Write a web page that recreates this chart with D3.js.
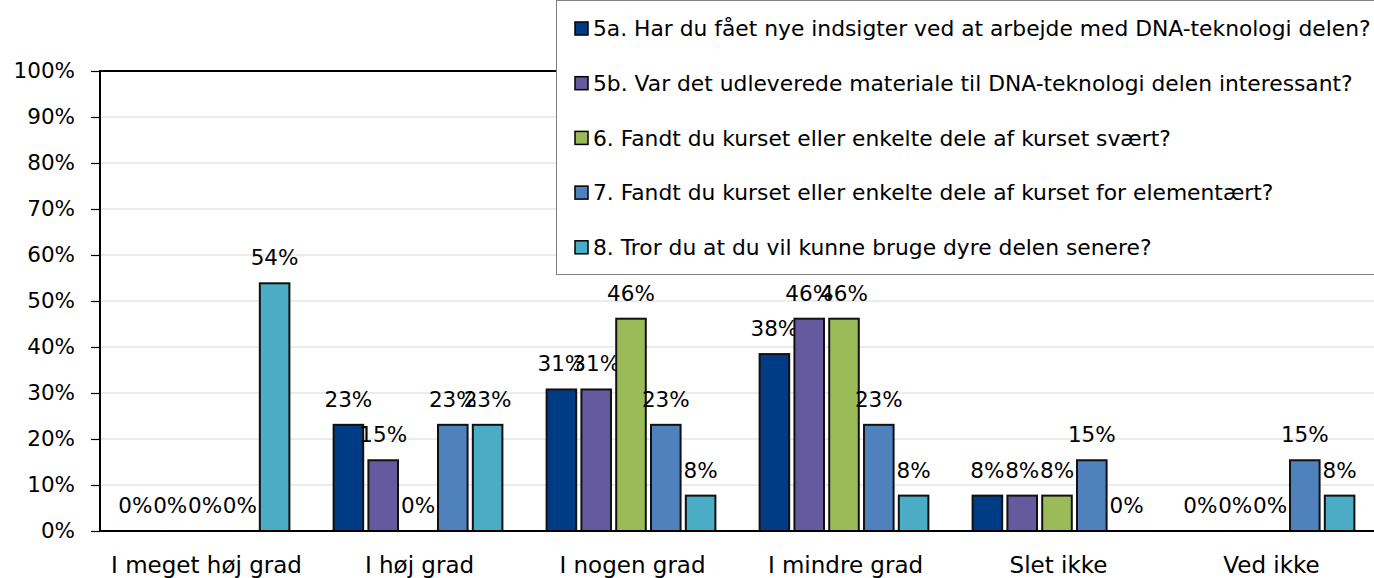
<!DOCTYPE html>
<html>
<head>
<meta charset="utf-8">
<script src="https://cdn.jsdelivr.net/npm/d3@7"></script>
<style>
  html, body { margin: 0; padding: 0; background: #fff; }
  svg { display: block; font-family: 'DejaVu Sans', sans-serif; }
</style>
</head>
<body>
<div id="chart"></div>
<script>
const categories = ['I meget høj grad', 'I høj grad', 'I nogen grad', 'I mindre grad', 'Slet ikke', 'Ved ikke'];
const seriesNames = [
  '5a. Har du fået nye indsigter ved at arbejde med DNA-teknologi delen?',
  '5b. Var det udleverede materiale til DNA-teknologi delen interessant?',
  '6. Fandt du kurset eller enkelte dele af kurset svært?',
  '7. Fandt du kurset eller enkelte dele af kurset for elementært?',
  '8. Tror du at du vil kunne bruge dyre delen senere?'
];
const seriesColors = ['#003C85', '#655A9E', '#9BBB59', '#4F81BD', '#4BACC6'];
// percent per category, one array per series
const s5a = [0, 23.08, 30.77, 38.46, 7.69, 0];
const s5b = [0, 15.38, 30.77, 46.15, 7.69, 0];
const s6  = [0, 0, 46.15, 46.15, 7.69, 0];
const s7  = [0, 23.08, 23.08, 23.08, 15.38, 15.38];
const s8  = [53.85, 23.08, 7.69, 7.69, 0, 7.69];
const yTicks = [0, 10, 20, 30, 40, 50, 60, 70, 80, 90, 100];

const allSeries = [s5a, s5b, s6, s7, s8];
const width = 1374, height = 578;
const plotLeft = 100, plotRight = 1378, plotTop = 71, plotBottom = 531;

const svg = d3.select('#chart').append('svg')
  .attr('width', width).attr('height', height);

const x0 = d3.scaleBand().domain(categories).range([plotLeft, plotRight]).padding(0);
const x1 = d3.scaleBand().domain(d3.range(seriesNames.length))
  .range([-88.5, 85.5]).paddingInner(0.15).paddingOuter(0.075);
const y = d3.scaleLinear().domain([0, 100]).range([plotBottom, plotTop]);

// gridlines
svg.append('g').selectAll('line')
  .data(yTicks.filter(t => t > 0 && t < 100))
  .join('line')
  .attr('x1', plotLeft).attr('x2', plotRight)
  .attr('y1', d => y(d)).attr('y2', d => y(d))
  .attr('stroke', '#d9d9d9').attr('stroke-width', 1);

// y axis
const yAxis = svg.append('g').attr('transform', `translate(${plotLeft},0)`)
  .call(d3.axisLeft(y).tickValues(yTicks).tickFormat(d => d + '%').tickSize(9).tickPadding(16));
yAxis.select('.domain').remove();
yAxis.selectAll('line').attr('stroke', '#000').attr('stroke-width', 1.2);
yAxis.selectAll('text').attr('font-size', '21.5px').attr('fill', '#000')
  .attr('font-family', "'DejaVu Sans', sans-serif");

// bars
const groups = svg.append('g').selectAll('g')
  .data(categories)
  .join('g')
  .attr('transform', d => `translate(${x0(d) + x0.bandwidth() / 2},0)`);

groups.each(function(cat, ci) {
  const g = d3.select(this);
  allSeries.forEach((vals, si) => {
    const v = vals[ci];
    if (v > 0) {
      g.append('rect')
        .attr('x', x1(si)).attr('width', x1.bandwidth())
        .attr('y', y(v)).attr('height', y(0) - y(v))
        .attr('fill', seriesColors[si])
        .attr('stroke', '#111').attr('stroke-width', 2);
    }
    g.append('text')
      .attr('x', x1(si) + x1.bandwidth() / 2)
      .attr('y', y(v) - 18)
      .attr('text-anchor', 'middle')
      .attr('font-size', '21.5px').attr('fill', '#000')
      .text(Math.round(v) + '%');
  });
});

// frame
svg.append('line').attr('x1', plotLeft).attr('x2', plotRight).attr('y1', plotTop).attr('y2', plotTop)
  .attr('stroke', '#000').attr('stroke-width', 2);
svg.append('line').attr('x1', plotLeft).attr('x2', plotRight).attr('y1', plotBottom).attr('y2', plotBottom)
  .attr('stroke', '#000').attr('stroke-width', 2);
svg.append('line').attr('x1', plotLeft).attr('x2', plotLeft).attr('y1', plotTop - 1).attr('y2', plotBottom + 1)
  .attr('stroke', '#000').attr('stroke-width', 2);

// category labels
svg.append('g').selectAll('text')
  .data(categories)
  .join('text')
  .attr('x', d => x0(d) + x0.bandwidth() / 2)
  .attr('y', 573)
  .attr('text-anchor', 'middle')
  .attr('font-size', '23px').attr('fill', '#000')
  .text(d => d);

// legend
const legend = svg.append('g');
legend.append('rect')
  .attr('x', 556.5).attr('y', 0.5).attr('width', 840).attr('height', 274)
  .attr('fill', '#fff').attr('stroke', '#808080').attr('stroke-width', 1);
const items = legend.selectAll('g.item')
  .data(seriesNames)
  .join('g').attr('class', 'item')
  .attr('transform', (d, i) => `translate(0,${28.5 + i * 54.7})`);
items.append('rect')
  .attr('x', 575).attr('y', -6.5).attr('width', 13).attr('height', 13)
  .attr('fill', (d, i) => seriesColors[i]).attr('stroke', '#000').attr('stroke-width', 1.5);
items.append('text')
  .attr('x', 593).attr('y', 0).attr('dy', '0.35em')
  .attr('font-size', '21.8px').attr('fill', '#000')
  .text(d => d);
</script>
</body>
</html>
